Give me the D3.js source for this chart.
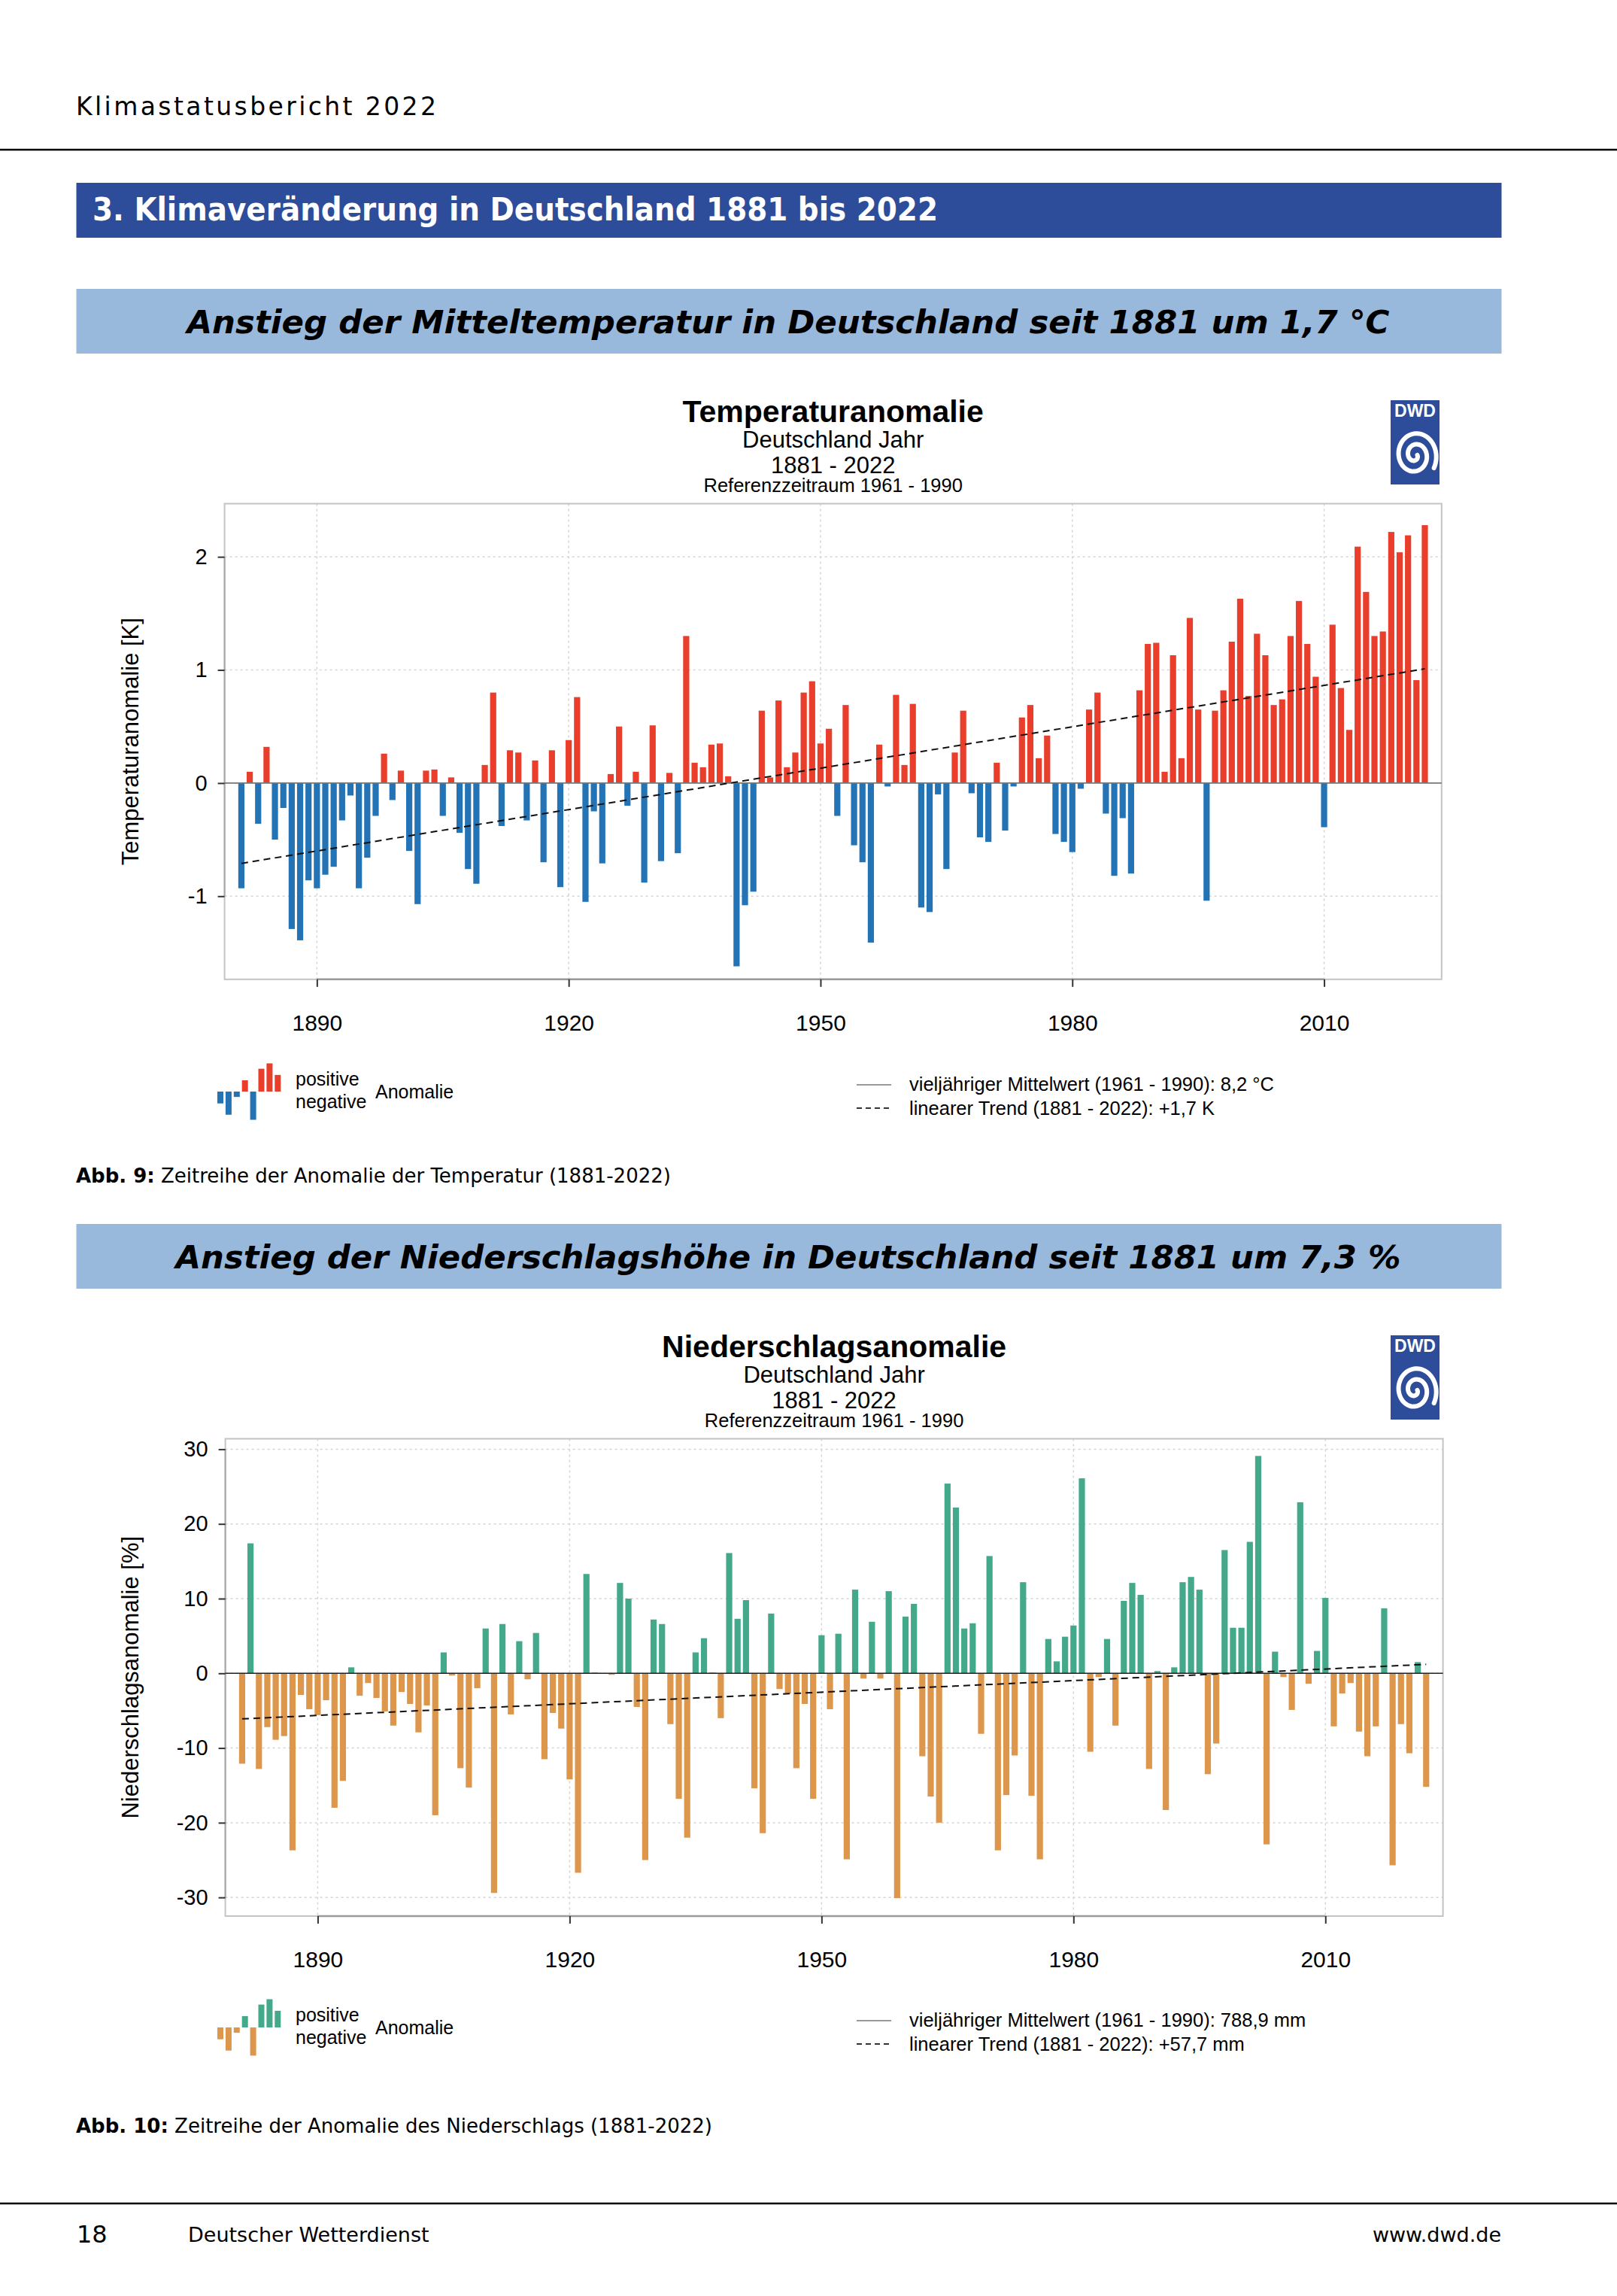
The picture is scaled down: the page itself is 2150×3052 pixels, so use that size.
<!DOCTYPE html>
<html>
<head>
<meta charset="utf-8">
<script src="https://cdn.jsdelivr.net/npm/d3@7"></script>
<style>
body{margin:0;background:#fff}
</style>
</head>
<body>
<svg id="page"></svg>
<script>
// Jahre und Anomalien
var years = d3.range(1881, 2023)

var tempAnom = [
 -0.93, 0.10,-0.36, 0.32,-0.50,-0.22,-1.29,-1.39,-0.86,-0.93,
 -0.81,-0.74,-0.33,-0.11,-0.93,-0.66,-0.29, 0.26,-0.15, 0.11,
 -0.60,-1.07, 0.11, 0.12,-0.29, 0.05,-0.44,-0.76,-0.89, 0.16,
  0.80,-0.38, 0.29, 0.27,-0.33, 0.20,-0.70, 0.29,-0.92, 0.38,
  0.76,-1.05,-0.25,-0.71, 0.08, 0.50,-0.20, 0.10,-0.88, 0.51,
 -0.69, 0.09,-0.62, 1.30, 0.18, 0.14, 0.34, 0.35, 0.06,-1.62,
 -1.08,-0.96, 0.64, 0.05, 0.73, 0.14, 0.27, 0.80, 0.90, 0.35,
  0.48,-0.29, 0.69,-0.55,-0.70,-1.41, 0.34,-0.03, 0.78, 0.16,
  0.70,-1.10,-1.14,-0.10,-0.76, 0.27, 0.64,-0.09,-0.48,-0.52,
  0.18,-0.42,-0.03, 0.58, 0.69, 0.22, 0.42,-0.45,-0.52,-0.61,
 -0.05, 0.65, 0.80,-0.27,-0.82,-0.31,-0.80, 0.82, 1.23, 1.24,
  0.10, 1.13, 0.22, 1.46, 0.65,-1.04, 0.64, 0.82, 1.25, 1.63,
  0.77, 1.32, 1.13, 0.69, 0.74, 1.30, 1.61, 1.23, 0.94,-0.39,
  1.40, 0.84, 0.47, 2.09, 1.69, 1.30, 1.34, 2.22, 2.04, 2.19,
  0.91, 2.28
]

var precAnom = [
 -12.1, 17.4,-12.8, -7.2, -8.9, -8.4,-23.7, -2.9, -4.8, -5.6,
  -3.6,-18.0,-14.4,  0.8, -3.0, -1.3, -3.3, -5.1, -7.0, -2.5,
  -4.1, -7.9, -4.3,-19.0,  2.8, -0.3,-12.7,-15.3, -2.0,  6.0,
 -29.4,  6.6, -5.5,  4.3, -0.8,  5.4,-11.5, -5.3, -7.4,-14.2,
 -26.7, 13.3,  0.1,  0.0, -0.2, 12.1, 10.0, -4.5,-25.0,  7.2,
   6.6, -6.8,-16.8,-22.0,  2.8,  4.7,  0.1, -6.0, 16.1,  7.3,
   9.8,-15.4,-21.4,  8.0, -2.1, -2.7,-12.7, -4.1,-16.8,  5.1,
  -4.8,  5.3,-24.9, 11.2, -0.7,  6.9, -0.7, 11.0,-30.1,  7.6,
   9.3,-11.1,-16.5,-20.0, 25.4, 22.2,  6.0,  6.7, -8.1, 15.7,
 -23.7,-16.3,-11.0, 12.2,-16.4,-24.9,  4.6,  1.6,  4.9,  6.4,
  26.1,-10.5, -0.5,  4.6, -7.0,  9.7, 12.1, 10.5,-12.8,  0.3,
 -18.3,  0.8, 12.2, 12.9, 11.2,-13.5, -9.4, 16.5,  6.1,  6.1,
  17.6, 29.1,-22.9,  2.9, -0.5, -4.9, 22.9, -1.4,  3.0, 10.1,
  -7.1, -2.7, -1.3, -7.8,-11.1, -7.1,  8.7,-25.7, -6.8,-10.7,
   1.5,-15.2
]

// Trend (Wert 1881, Wert 2022)
var tempTrend = [-0.71, 1.01]
var precTrend = [-6.1, 1.2]

var tempTicks = [-1, 0, 1, 2]
var precTicks = [-30, -20, -10, 0, 10, 20, 30]
var yearTicks = [1890, 1920, 1950, 1980, 2010]

// kleine Legendengrafik
var legendIcon = [-0.42, -0.82, -0.19, 0.40, -1.0, 0.81, 1.0, 0.59]


var screen = {width:2150, height:3052}

var svg = d3.select("#page")
    .attr("width", screen.width)
    .attr("height", screen.height)
    .style("display", "block")

var pageFont = "'DejaVu Sans', sans-serif"
var chartFont = "'Liberation Sans', Arial, sans-serif"


var drawPage = function()
{
    svg.append("text")
        .attr("x", 101).attr("y", 153)
        .attr("font-family", pageFont).attr("font-size", 33)
        .attr("letter-spacing", 3.4)
        .text("Klimastatusbericht 2022")

    svg.append("line")
        .attr("x1", 0).attr("x2", screen.width)
        .attr("y1", 199).attr("y2", 199)
        .attr("stroke", "#000").attr("stroke-width", 2.5)

    svg.append("rect")
        .attr("x", 101.5).attr("y", 243).attr("width", 1895).attr("height", 73)
        .attr("fill", "#2d4c9a")
    svg.append("text")
        .attr("x", 123).attr("y", 293)
        .attr("font-family", pageFont).attr("font-weight", "bold").attr("font-size", 42)
        .attr("fill", "#fff")
        .attr("textLength", 1124).attr("lengthAdjust", "spacingAndGlyphs")
        .text("3. Klimaveränderung in Deutschland 1881 bis 2022")

    banner(384, 443, 1599, "Anstieg der Mitteltemperatur in Deutschland seit 1881 um 1,7 °C")
    banner(1627, 1686, 1629, "Anstieg der Niederschlagshöhe in Deutschland seit 1881 um 7,3 %")

    caption(1572, "Abb. 9:", " Zeitreihe der Anomalie der Temperatur (1881-2022)")
    caption(2835, "Abb. 10:", " Zeitreihe der Anomalie des Niederschlags (1881-2022)")

    svg.append("line")
        .attr("x1", 0).attr("x2", screen.width)
        .attr("y1", 2929).attr("y2", 2929)
        .attr("stroke", "#000").attr("stroke-width", 2.5)
    svg.append("text")
        .attr("x", 102).attr("y", 2981)
        .attr("font-family", pageFont).attr("font-size", 32)
        .text("18")
    svg.append("text")
        .attr("x", 250).attr("y", 2980)
        .attr("font-family", pageFont).attr("font-size", 27)
        .text("Deutscher Wetterdienst")
    svg.append("text")
        .attr("x", 1996).attr("y", 2980)
        .attr("text-anchor", "end")
        .attr("font-family", pageFont).attr("font-size", 27)
        .text("www.dwd.de")
}

var banner = function(top, base, len, label)
{
    svg.append("rect")
        .attr("x", 101.5).attr("y", top).attr("width", 1895).attr("height", 86)
        .attr("fill", "#99b9dc")
    svg.append("text")
        .attr("x", 1048).attr("y", base)
        .attr("text-anchor", "middle")
        .attr("font-family", pageFont).attr("font-weight", "bold")
        .attr("font-style", "italic").attr("font-size", 43)
        .attr("textLength", len).attr("lengthAdjust", "spacingAndGlyphs")
        .text(label)
}

var caption = function(base, bold, rest)
{
    var t = svg.append("text")
        .attr("x", 101).attr("y", base)
        .attr("font-family", pageFont).attr("font-size", 26)
    t.append("tspan").attr("font-weight", "bold").text(bold)
    t.append("tspan").text(rest)
}


var drawLogo = function(x0, y0)
{
    var g = svg.append("g").attr("transform", "translate(" + x0 + "," + y0 + ")")
    g.append("rect").attr("width", 65).attr("height", 112).attr("fill", "#2d4c9a")
    g.append("text")
        .attr("x", 32.5).attr("y", 22)
        .attr("text-anchor", "middle")
        .attr("font-family", chartFont).attr("font-weight", "bold").attr("font-size", 23)
        .attr("fill", "#fff")
        .text("DWD")
    var spiral = d3.range(0, 4.2 * Math.PI, 0.1).map(function(t){
        var r = 3 + t * 2.0
        return [32.5 + r * Math.cos(t), 73 + r * Math.sin(t) * 1.15]
    })
    g.append("path")
        .attr("d", d3.line()(spiral))
        .attr("fill", "none").attr("stroke", "#fff").attr("stroke-width", 6)
        .attr("stroke-linecap", "round")
}


var drawChart = function(c)
{
    var g = svg.append("g")

    var x = d3.scaleLinear().domain([1879, 2024]).range([c.left, c.right])
    var y = d3.scaleLinear().domain(c.yDomain).range([c.bottom, c.top])
    var bw = (x(1882) - x(1881)) * 0.735

    // Titel
    var mid = (c.left + c.right) / 2
    var titles = [
        {t:c.title, y:c.titleTop, s:41, w:"bold"},
        {t:"Deutschland Jahr", y:c.titleTop + 34, s:31, w:"normal"},
        {t:"1881 - 2022", y:c.titleTop + 68, s:31, w:"normal"},
        {t:"Referenzzeitraum 1961 - 1990", y:c.titleTop + 93, s:25.5, w:"normal"}
    ]
    g.selectAll(".title").data(titles).enter().append("text")
        .attr("x", mid).attr("y", function(d){return d.y})
        .attr("text-anchor", "middle")
        .attr("font-family", chartFont)
        .attr("font-size", function(d){return d.s})
        .attr("font-weight", function(d){return d.w})
        .text(function(d){return d.t})

    drawLogo(1849, c.titleTop - 29)

    // Gitter
    g.selectAll(".hgrid").data(c.ticks).enter().append("line")
        .attr("x1", c.left).attr("x2", c.right)
        .attr("y1", function(d){return y(d)}).attr("y2", function(d){return y(d)})
        .attr("stroke", "#d4d4d4").attr("stroke-width", 1.5).attr("stroke-dasharray", "3,4")
    g.selectAll(".vgrid").data(yearTicks).enter().append("line")
        .attr("x1", function(d){return x(d)}).attr("x2", function(d){return x(d)})
        .attr("y1", c.top).attr("y2", c.bottom)
        .attr("stroke", "#d4d4d4").attr("stroke-width", 1.5).attr("stroke-dasharray", "3,4")

    // Rahmen
    g.append("rect")
        .attr("x", c.left).attr("y", c.top)
        .attr("width", c.right - c.left).attr("height", c.bottom - c.top)
        .attr("fill", "none").attr("stroke", "#c4c4c4").attr("stroke-width", 2)
    g.append("line")
        .attr("x1", x(1890)).attr("x2", x(2010))
        .attr("y1", c.bottom).attr("y2", c.bottom)
        .attr("stroke", "#9a9a9a").attr("stroke-width", 2.5)
    g.append("line")
        .attr("x1", c.left).attr("x2", c.left)
        .attr("y1", y(d3.min(c.ticks))).attr("y2", y(d3.max(c.ticks)))
        .attr("stroke", "#a8a8a8").attr("stroke-width", 2)

    // Balken
    g.selectAll(".bar").data(c.values).enter().append("rect")
        .attr("x", function(d, i){return x(years[i]) - bw / 2})
        .attr("y", function(d){return y(Math.max(0, d))})
        .attr("width", bw)
        .attr("height", function(d){return Math.abs(y(d) - y(0))})
        .attr("fill", function(d){return d >= 0 ? c.pos : c.neg})

    // Mittelwert
    g.append("line")
        .attr("x1", c.left).attr("x2", c.right)
        .attr("y1", y(0)).attr("y2", y(0))
        .attr("stroke", c.zeroColor).attr("stroke-width", 1.6)

    // Trend
    g.append("line")
        .attr("x1", x(years[0])).attr("x2", x(years[years.length - 1]))
        .attr("y1", y(c.trend[0])).attr("y2", y(c.trend[1]))
        .attr("stroke", "#111").attr("stroke-width", 2).attr("stroke-dasharray", "9,6")

    // Achsen
    var xAxis = d3.axisBottom(x).tickValues(yearTicks).tickSize(10).tickPadding(37)
        .tickFormat(d3.format("d"))
    var ga = g.append("g").attr("transform", "translate(0," + c.bottom + ")").call(xAxis)
    ga.select(".domain").remove()
    ga.selectAll("line").attr("stroke", "#333").attr("stroke-width", 2)
    ga.selectAll("text").attr("font-family", chartFont).attr("font-size", 30).attr("fill", "#000")

    var yAxis = d3.axisLeft(y).tickValues(c.ticks).tickSize(9).tickPadding(14)
        .tickFormat(function(d){return String(d)})
    var gy = g.append("g").attr("transform", "translate(" + c.left + ",0)").call(yAxis)
    gy.select(".domain").remove()
    gy.selectAll("line").attr("stroke", "#333").attr("stroke-width", 2)
    gy.selectAll("text").attr("font-family", chartFont).attr("font-size", 29).attr("fill", "#000")

    g.append("text")
        .attr("transform", "translate(173," + (c.top + c.bottom) / 2 + ") rotate(-90)")
        .attr("dy", "0.35em")
        .attr("text-anchor", "middle")
        .attr("font-family", chartFont).attr("font-size", 31)
        .text(c.yTitle)

    // Legende links
    var ly = c.legendBase
    var li = d3.scaleLinear().domain([-1, 1]).range([ly + 37.5, ly - 37.5])
    g.selectAll(".icon").data(legendIcon).enter().append("rect")
        .attr("x", function(d, i){return 289 + i * 10.9})
        .attr("y", function(d){return li(Math.max(0, d))})
        .attr("width", 8)
        .attr("height", function(d){return Math.abs(li(d) - li(0))})
        .attr("fill", function(d){return d >= 0 ? c.pos : c.neg})
    var lt = [
        {t:"positive", x:393, y:ly - 8},
        {t:"negative", x:393, y:ly + 22},
        {t:"Anomalie", x:499, y:ly + 9}
    ]
    g.selectAll(".ltext").data(lt).enter().append("text")
        .attr("x", function(d){return d.x}).attr("y", function(d){return d.y})
        .attr("font-family", chartFont).attr("font-size", 25)
        .text(function(d){return d.t})

    // Legende rechts
    g.append("line")
        .attr("x1", 1139).attr("x2", 1185).attr("y1", ly - 9).attr("y2", ly - 9)
        .attr("stroke", "#999").attr("stroke-width", 2)
    g.append("line")
        .attr("x1", 1139).attr("x2", 1185).attr("y1", ly + 22).attr("y2", ly + 22)
        .attr("stroke", "#333").attr("stroke-width", 2).attr("stroke-dasharray", "7,5")
    g.append("text")
        .attr("x", 1209).attr("y", ly - 1)
        .attr("font-family", chartFont).attr("font-size", 25.5)
        .text(c.meanLabel)
    g.append("text")
        .attr("x", 1209).attr("y", ly + 31)
        .attr("font-family", chartFont).attr("font-size", 25.5)
        .text(c.trendLabel)
}


drawPage()

drawChart({
    title:"Temperaturanomalie", titleTop:561,
    left:298.6, right:1916.8, top:669.5, bottom:1301.8,
    yDomain:[-1.735, 2.47], ticks:tempTicks,
    values:tempAnom, trend:tempTrend,
    pos:"#e93e2c", neg:"#2373b5", zeroColor:"#777",
    yTitle:"Temperaturanomalie [K]",
    legendBase:1451,
    meanLabel:"vieljähriger Mittelwert (1961 - 1990): 8,2 °C",
    trendLabel:"linearer Trend (1881 - 2022): +1,7 K"
})

drawChart({
    title:"Niederschlagsanomalie", titleTop:1804,
    left:299.6, right:1918.6, top:1912.5, bottom:2547,
    yDomain:[-32.5, 31.4], ticks:precTicks,
    values:precAnom, trend:precTrend,
    pos:"#43a98a", neg:"#dd974d", zeroColor:"#222",
    yTitle:"Niederschlagsanomalie [%]",
    legendBase:2695,
    meanLabel:"vieljähriger Mittelwert (1961 - 1990): 788,9 mm",
    trendLabel:"linearer Trend (1881 - 2022): +57,7 mm"
})
</script>
</body>
</html>
